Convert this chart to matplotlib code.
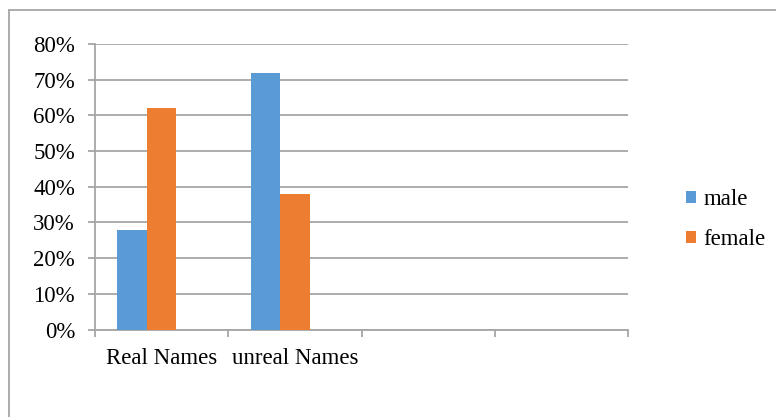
import matplotlib
matplotlib.use("Agg")
import matplotlib.pyplot as plt
from matplotlib.lines import Line2D
import numpy as np

categories = ["Real Names", "unreal Names", "", ""]
series_names = ["male", "female"]
male = [28, 72, np.nan, np.nan]
female = [62, 38, np.nan, np.nan]
yticks = [0, 10, 20, 30, 40, 50, 60, 70, 80]
ytick_labels = ["0%", "10%", "20%", "30%", "40%", "50%", "60%", "70%", "80%"]

plt.rcParams['font.family'] = ['Liberation Serif', 'DejaVu Serif']

W, H = 776, 417
FS = 16.5
fig = plt.figure(figsize=(W / 100, H / 100), dpi=100)
ax = fig.add_axes([95 / W, 1 - 329.5 / H, (628 - 95) / W, (329.5 - 44) / H])

x = np.arange(len(categories))
bw = 0.221
c_male = "#5b9bd5"
c_female = "#ed7d31"
ax.bar(x - bw, male, width=bw, color=c_male, label=series_names[0], zorder=3)
ax.bar(x, female, width=bw, color=c_female, label=series_names[1], zorder=3)

ax.set_xlim(-0.5, len(categories) - 0.5)
ax.set_ylim(0, 80)
ax.set_yticks(yticks)
ax.set_yticklabels(ytick_labels, fontsize=FS)
ax.yaxis.grid(True, color="#a6a6a6", linewidth=1.3, zorder=0)
ax.set_axisbelow(True)

ax.set_xticks(np.arange(len(categories) + 1) - 0.5)
ax.set_xticklabels([])
ax.set_xticks(x, minor=True)
ax.set_xticklabels(categories, minor=True, fontsize=FS)
ax.tick_params(axis="x", which="minor", length=0, pad=13)
ax.tick_params(axis="x", which="major", length=5, color="#a6a6a6", width=1.3)
ax.tick_params(axis="y", length=5, color="#a6a6a6", width=1.3, pad=9.4)

for s in ["top", "right"]:
    ax.spines[s].set_visible(False)
ax.spines["left"].set_color("#a6a6a6")
ax.spines["bottom"].set_color("#a6a6a6")
ax.spines["left"].set_linewidth(1.3)
ax.spines["bottom"].set_linewidth(1.3)

leg = fig.legend(loc="upper left", bbox_to_anchor=(686 / W, 1 - 189 / H), frameon=False,
                 fontsize=FS, handlelength=0.45, handleheight=0.45, handletextpad=0.3,
                 labelspacing=0.85, borderpad=0, borderaxespad=0)

# outer chart border
fig.add_artist(Line2D([9 / W, 9 / W], [0, 1 - 10 / H], transform=fig.transFigure, color="#a6a6a6", linewidth=1.3))
fig.add_artist(Line2D([9 / W, 1], [1 - 10 / H, 1 - 10 / H], transform=fig.transFigure, color="#a6a6a6", linewidth=1.3))

fig.savefig("out.png", dpi=100)
